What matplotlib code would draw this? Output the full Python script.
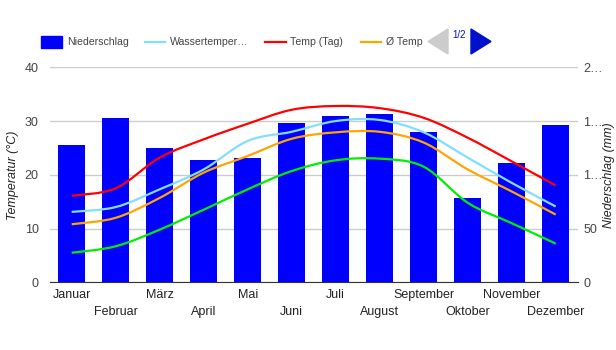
import numpy as np
import matplotlib.pyplot as plt
from matplotlib.path import Path
from matplotlib.patches import PathPatch, Polygon, Rectangle
from matplotlib.lines import Line2D

plt.rcParams['font.family'] = ['Liberation Sans', 'DejaVu Sans']

# Monate und Werte
months = ["Januar", "Februar", "März", "April", "Mai", "Juni", "Juli",
          "August", "September", "Oktober", "November", "Dezember"]
niederschlag = [128, 153, 125, 114, 116, 148, 155, 157, 140, 78, 111, 146]
temp_tag = [16.1, 17.5, 23.2, 26.6, 29.5, 32.1, 32.8, 32.4, 30.6, 26.9, 22.5, 18.0]
wasser = [13.1, 14.0, 17.3, 21.0, 26.3, 28.0, 30.0, 30.2, 27.9, 23.2, 18.5, 14.1]
temp_mittel = [10.8, 12.0, 15.7, 20.4, 23.5, 26.7, 27.9, 28.0, 26.0, 21.0, 16.9, 12.6]
temp_nacht = [5.5, 6.7, 9.8, 13.5, 17.3, 20.7, 22.7, 23.0, 21.5, 14.8, 11.0, 7.2]

TXT = '#444444'


def smooth_path(x, y, k=0.5):
    # Bezier-Pfad durch die Punkte (wie curveType 'function')
    x = np.asarray(x, float)
    y = np.asarray(y, float)
    verts = [(x[0], y[0])]
    codes = [Path.MOVETO]
    n = len(x)
    for i in range(n - 1):
        p0 = i - 1 if i > 0 else i
        p3 = i + 2 if i + 2 < n else i + 1
        c1 = (x[i] + (x[i + 1] - x[p0]) * k / 3,
              y[i] + (y[i + 1] - y[p0]) * k / 3)
        c2 = (x[i + 1] - (x[p3] - x[i]) * k / 3,
              y[i + 1] - (y[p3] - y[i]) * k / 3)
        verts += [c1, c2, (x[i + 1], y[i + 1])]
        codes += [Path.CURVE4] * 3
    return Path(verts, codes)


fig = plt.figure(figsize=(6.16, 3.5), dpi=100)
ax = fig.add_axes([49.7 / 616, 67.7 / 350, 528 / 616, 215 / 350])
ax2 = ax.twinx()
x = np.arange(len(months))

# Niederschlag (rechte Achse)
ax.bar(x, niederschlag, width=0.6, color='#0000ff', zorder=2)
ax.set_ylim(0, 200)
ax.set_xlim(-0.5, len(months) - 0.5)
ax.set_yticks([0, 50, 100, 150, 200])
ax.set_yticklabels(["0", "50", "1…", "1…", "2…"])
ax.yaxis.tick_right()
ax.grid(axis='y', color='#cccccc', linewidth=1, zorder=0)
ax.set_axisbelow(True)
for s in ['top', 'left', 'right']:
    ax.spines[s].set_visible(False)
ax.spines['bottom'].set_color('#333333')
ax.spines['bottom'].set_zorder(5)
ax.tick_params(axis='y', length=0, labelsize=9, colors=TXT, pad=4)

# Monatsnamen abwechselnd in zwei Zeilen
ax.set_xticks(x[::2])
ax.set_xticklabels(months[::2])
ax.set_xticks(x[1::2], minor=True)
ax.set_xticklabels(months[1::2], minor=True)
ax.tick_params(axis='x', which='major', length=0, labelsize=9, colors='#222222', pad=5)
ax.tick_params(axis='x', which='minor', length=0, labelsize=9, colors='#222222', pad=17)

# Temperaturen (linke Achse)
ax2.set_ylim(0, 40)
ax2.set_yticks([0, 10, 20, 30, 40])
ax2.yaxis.tick_left()
ax2.tick_params(axis='y', length=0, labelsize=9, colors=TXT, pad=8)
for s in ax2.spines.values():
    s.set_visible(False)

for data, col in [(temp_nacht, '#00ee00'), (temp_mittel, '#ffa500'),
                  (wasser, '#80dfff'), (temp_tag, '#ff0000')]:
    ax2.add_patch(PathPatch(smooth_path(x, data), facecolor='none',
                            edgecolor=col, linewidth=1.6, zorder=3))

fig.text(13 / 616, 1 - 175 / 350, "Temperatur (°C)", rotation=90, fontstyle='italic',
         fontsize=9, color='#222222', ha='center', va='center')
fig.text(609 / 616, 1 - 175 / 350, "Niederschlag (mm)", rotation=90, fontstyle='italic',
         fontsize=9, color='#222222', ha='center', va='center')

# Legende oben
LFS = 7.6
fig.add_artist(Rectangle((41 / 616, 1 - 48 / 350), 21 / 616, 12 / 350,
                         transform=fig.transFigure, color='#0000ff'))
fig.text(67 / 616, 1 - 42 / 350, "Niederschlag", fontsize=LFS, color=TXT, va='center')
for x0, x1, tx, col, lab in [(145, 165, 170, '#80dfff', "Wassertemper…"),
                             (265, 286, 290, '#ff0000', "Temp (Tag)"),
                             (361, 381, 386, '#ffa500', "Ø Temp")]:
    fig.add_artist(Line2D([x0 / 616, x1 / 616], [1 - 42 / 350] * 2,
                          transform=fig.transFigure, color=col, linewidth=1.6))
    fig.text(tx / 616, 1 - 42 / 350, lab, fontsize=LFS, color=TXT, va='center')
fig.add_artist(Polygon([(448 / 616, 1 - 29 / 350), (448 / 616, 1 - 54 / 350),
                        (428 / 616, 1 - 41.5 / 350)], closed=True,
                       transform=fig.transFigure, color='#cccccc'))
fig.text(459.5 / 616, 1 - 35 / 350, "1/2", fontsize=7, color='#0011cc',
         ha='center', va='center')
fig.add_artist(Polygon([(471 / 616, 1 - 29 / 350), (471 / 616, 1 - 54 / 350),
                        (491 / 616, 1 - 41.5 / 350)], closed=True,
                       transform=fig.transFigure, color='#0011cc'))

fig.savefig("out.png", dpi=100)
